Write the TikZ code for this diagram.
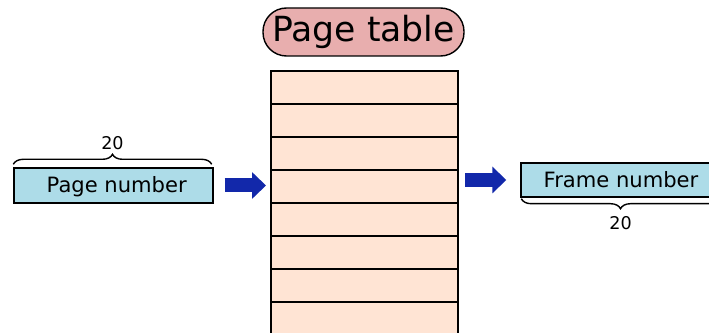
\documentclass[tikz,border=0pt]{standalone}
\usepackage{fontspec}
\setmainfont{DejaVu Sans}
\definecolor{pillpink}{RGB}{232, 174, 174}
\definecolor{rowpeach}{RGB}{255, 228, 212}
\definecolor{fieldblue}{RGB}{173, 220, 232}
\definecolor{arrowblue}{RGB}{18, 40, 170}
\usetikzlibrary{arrows.meta, positioning, calc, decorations.pathreplacing}

\begin{document}
\begin{tikzpicture}[
  fieldbox/.style={draw, thick, fill=fieldblue, minimum height=0.7cm, font=\fontsize{12}{14}\selectfont},
  tablerow/.style={draw, thick, fill=rowpeach, minimum width=3.74cm, minimum height=0.66cm, inner sep=0pt, outer sep=0pt},
  bitbrace/.style={decorate, decoration={brace, amplitude=0.2cm, aspect=0.5}, thick},
  bitlabel/.style={font=\fontsize{10}{12}\selectfont},
  bigarrow/.style={-{Triangle[length=0.28cm, width=0.52cm]}, line width=0.28cm, arrowblue}
]
  \useasboundingbox (0, 0) rectangle (14.18, 6.64);

  % Title
  \node[draw, thick, fill=pillpink, rounded corners=0.47cm, minimum width=4.02cm, minimum height=0.96cm, font=\fontsize{19.7}{22}\selectfont] (title) at (7.27, 6.0) {Page table};

  % Table rows
  \foreach \i in {1,...,8}
    \node[tablerow] (row\i) at (7.29, {4.89-0.66*(\i-1)}) {};

  % Page number
  \node[fieldbox, minimum width=3.98cm, text depth=0.06cm] (pn) at (2.27, 2.93) {\hspace{0.13cm}Page number};
  \draw[bitbrace] ($(pn.north west)+(0, 0.06)$) -- ($(pn.north east)+(-0.04, 0.06)$) node[midway, above=0.16cm, bitlabel] (pnbits) {20};

  % Frame number
  \node[fieldbox, minimum width=4.0cm, minimum height=0.68cm] (fn) at (12.42, 3.04) {Frame number};
  \draw[bitbrace] ($(fn.south east)+(-0.04, -0.02)$) -- ($(fn.south west)+(0.02, -0.02)$) node[midway, below=0.22cm, bitlabel] (fnbits) {20};

  % Arrows
  \draw[bigarrow, shorten <=0.22cm, shorten >=0.1cm] (pn.east) -- (pn.east -| row4.west);
  \draw[bigarrow, shorten <=0.14cm, shorten >=0.28cm] (row4.east |- fn.west) -- (fn.west);
\end{tikzpicture}
\end{document}
